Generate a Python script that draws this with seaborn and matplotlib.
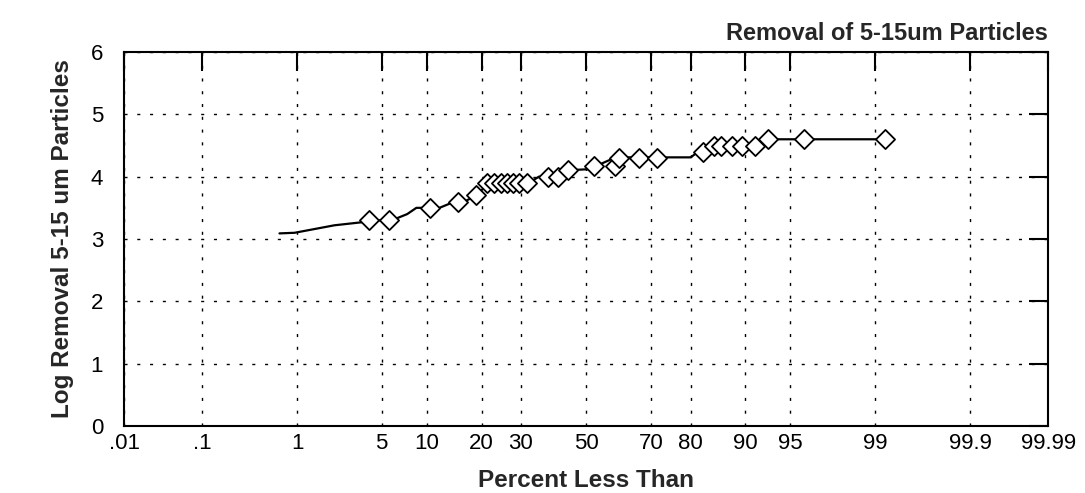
import numpy as np
import matplotlib
matplotlib.use("Agg")
import matplotlib.pyplot as plt
import seaborn as sns
from statistics import NormalDist

# diamonds: percent less than / log removal
pct_pts = [4.0, 5.6, 10.4, 15.2, 18.7, 21.3, 22.9, 24.7, 26.2, 27.8, 29.5, 31.7,
           37.9, 41.0, 44.2, 52.5, 59.1, 60.6, 66.6, 71.6, 82.6, 84.8, 86.2,
           88.0, 89.5, 91.3, 92.8, 96.0, 99.2]
log_pts = [3.3, 3.3, 3.5, 3.6, 3.7, 3.9, 3.9, 3.9, 3.9, 3.9, 3.9, 3.9,
           4.0, 4.0, 4.1, 4.17, 4.17, 4.3, 4.3, 4.3, 4.4, 4.5, 4.5,
           4.5, 4.5, 4.5, 4.6, 4.6, 4.6]

# fitted line
pct_line = [0.68, 0.95, 2.14, 3.6, 4.0, 5.9, 7.5, 8.6, 11.9, 14.5, 16.4, 18.8,
            21.0, 32.3, 35.2, 41.3, 42.9, 50.9, 59.4, 80.0, 81.7, 84.1, 91.3,
            93.4, 99.2]
log_line = [3.09, 3.10, 3.22, 3.27, 3.3, 3.3, 3.4, 3.5, 3.5, 3.6, 3.6, 3.7,
            3.85, 3.9, 4.0, 4.0, 4.1, 4.12, 4.31, 4.31, 4.4, 4.45, 4.5,
            4.6, 4.6]

xticks = [0.01, 0.1, 1, 5, 10, 20, 30, 50, 70, 80, 90, 95, 99, 99.9, 99.99]
xlabels = [".01", ".1", "1", "5", "10", "20", "30", "50", "70", "80", "90",
           "95", "99", "99.9", "99.99"]

nd = NormalDist()
_ppf = np.vectorize(nd.inv_cdf, otypes=[float])
_cdf = np.vectorize(nd.cdf, otypes=[float])


def fwd(p):
    p = np.clip(np.asarray(p, dtype=float) / 100.0, 1e-9, 1 - 1e-9)
    return _ppf(p)


def inv(z):
    return _cdf(np.asarray(z, dtype=float)) * 100.0


sns.set_style("white")
plt.rcParams["font.family"] = ["Liberation Sans", "DejaVu Sans"]

fig = plt.figure(figsize=(10.85, 4.93), dpi=100)
ax = fig.add_axes([0.1143, 0.1359, 0.8517, 0.7586])
ax.set_xscale("function", functions=(fwd, inv))

sns.lineplot(x=pct_line, y=log_line, sort=False, estimator=None,
             color="black", linewidth=1.6, ax=ax)
sns.scatterplot(x=pct_pts, y=log_pts, marker="D", s=95, facecolor="white",
                edgecolor="black", linewidth=1.3, ax=ax, zorder=3)

ax.set_xlim(0.01, 99.99)
ax.set_ylim(0, 6)
ax.set_xticks(xticks)
ax.set_xticklabels(xlabels)
ax.set_yticks(range(0, 7))
ax.minorticks_off()

ax.grid(True, color="black", linestyle=(0, (2.2, 7)), linewidth=1.0)
ax.tick_params(direction="in", length=14, width=1.5, top=True, right=True,
               labelsize=16, colors="black")
ax.tick_params(axis="y", pad=15)
ax.tick_params(axis="x", pad=5)
for sp in ax.spines.values():
    sp.set_color("black")
    sp.set_linewidth(1.5)

ax.set_xlabel("Percent Less Than", fontsize=17.5, fontweight="bold", labelpad=11)
ax.set_ylabel("Log Removal 5-15 um Particles", fontsize=17.5, fontweight="bold",
              labelpad=12)
ax.set_title("Removal of 5-15um Particles", fontsize=17, fontweight="bold",
             loc="right", pad=9)

fig.savefig("out.png", dpi=100)
